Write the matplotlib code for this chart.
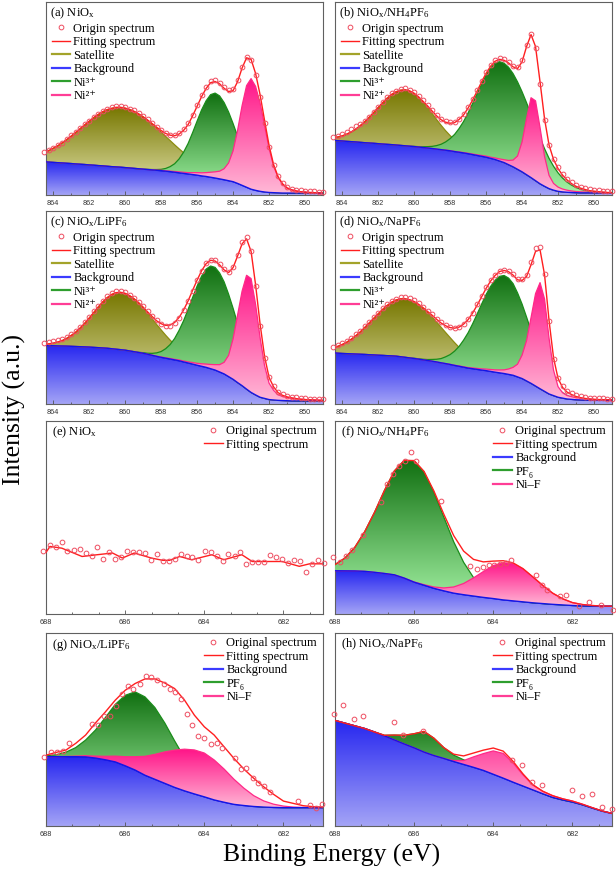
import numpy as np
import matplotlib
matplotlib.use("Agg")
import matplotlib.pyplot as plt
from matplotlib.colors import LinearSegmentedColormap
from matplotlib.lines import Line2D
from matplotlib.ticker import MultipleLocator, AutoMinorLocator, FormatStrFormatter

plt.rcParams["font.family"] = ["Liberation Serif", "DejaVu Serif"]
plt.rcParams["mathtext.fontset"] = "custom"
plt.rcParams["mathtext.rm"] = "Liberation Serif"
plt.rcParams["mathtext.it"] = "Liberation Serif:italic"

# ---- Ni 2p panels (a)-(d): binding energy grid, intensities in % of panel height
E_NI = np.arange(864.5, 848.9, -0.25)

BG_A = [17.2, 17.05, 16.9, 16.75, 16.6, 16.45, 16.3, 16.1, 15.95, 15.8, 15.6, 15.45, 15.25, 15.1, 14.9, 14.7,
        14.55, 14.4, 14.2, 14.0, 13.8, 13.6, 13.4, 13.2, 13.0, 12.8, 12.6, 12.35, 12.1, 11.8, 11.5, 11.2, 10.9,
        10.6, 10.3, 9.9, 9.6, 9.2, 8.8, 8.35, 7.9, 7.4, 6.9, 6.0, 5.0, 4.0, 3.0, 2.4, 1.9, 1.55, 1.3, 1.2, 1.1,
        1.0, 1.0, 1.0, 1.0, 1.0, 1.0, 1.0, 1.0, 1.0, 1.0]
SAT_A = [4.8, 5.9, 7.3, 8.7, 10.4, 12.2, 14.2, 16.3, 18.4, 20.5, 22.6, 24.6, 26.4, 28.0, 29.3, 30.2, 30.8, 31.0,
         30.8, 30.3, 29.5, 28.4, 27.1, 25.5, 23.8, 21.9, 20.0, 18.0, 16.1, 14.2, 12.4, 10.7, 9.1, 7.7, 6.4, 5.3,
         4.4, 3.6, 2.8, 2.2, 1.7, 1.4, 1.1, 0.8, 0.6, 0.5, 0.3, 0.2, 0.2, 0.1,
         0, 0, 0, 0, 0, 0, 0, 0, 0, 0, 0, 0, 0]
NI3_A = [0] * 23 + [0.1, 0.2, 0.4, 0.7, 1.4, 2.6, 4.4, 7.2, 11.0, 15.8, 21.7, 28.0, 34.2, 39.2, 42.8, 44.0, 43.0,
                    40.0, 35.6, 30.1, 24.4, 18.9, 13.9, 9.7, 6.5, 4.1, 2.5, 1.5, 0.8, 0.4, 0.2, 0.1] + [0] * 8
NI2_A = [0] * 24 + [0.1, 0.1, 0.2, 0.2, 0.3, 0.4, 0.5, 0.6, 0.7, 1.0, 1.3, 1.6, 2.0, 2.6, 3.2, 4.0, 5.7, 9.2, 16.0,
                    27.5, 41.3, 52.7, 57.3, 53.9, 45.8, 34.4, 22.9, 13.8, 8.0, 4.6, 2.6, 1.7, 1.1, 0.7, 0.5, 0.3,
                    0.2, 0.1, 0.1]
FIT_A = [22.0, 23.0, 24.2, 25.5, 27.0, 28.7, 30.5, 32.4, 34.4, 36.3, 38.2, 40.1, 41.7, 43.1, 44.2, 44.9, 45.4, 45.4,
         45.0, 44.3, 43.3, 42.0, 40.5, 38.8, 37.0, 35.1, 33.4, 31.9, 31.0, 30.7, 31.6, 33.5, 36.5, 41.0, 46.0, 51.0,
         55.2, 58.2, 58.8, 57.6, 55.3, 53.6, 54.1, 58.7, 65.8, 71.1, 70.3, 63.0, 52.0, 38.6, 25.7, 15.8, 9.5, 5.8,
         3.7, 2.7, 2.1, 1.7, 1.5, 1.3, 1.2, 1.1, 1.1]
OBS_A = [22.3, 23.4, 24.6, 25.9, 27.2, 29.0, 30.9, 32.6, 34.9, 36.6, 38.6, 40.5, 42.2, 43.6, 44.5, 45.5, 46.0, 46.2,
         45.6, 44.8, 43.9, 42.4, 41.0, 39.2, 37.3, 35.4, 33.7, 32.1, 31.2, 31.3, 32.3, 34.2, 37.2, 41.6, 46.8, 51.9,
         56.1, 58.9, 59.4, 58.2, 56.0, 54.5, 55.0, 59.5, 66.5, 71.5, 70.0, 62.0, 50.8, 37.5, 25.0, 15.8, 10.0, 6.4,
         4.2, 3.3, 2.8, 2.4, 2.2, 2.0, 1.9, 1.8, 1.8]

BG_B = [28.3, 28.15, 28.0, 27.8, 27.65, 27.5, 27.3, 27.1, 26.95, 26.8, 26.6, 26.4, 26.25, 26.1, 25.9, 25.7, 25.5,
        25.3, 25.1, 24.85, 24.6, 24.35, 24.1, 23.8, 23.5, 23.2, 22.9, 22.5, 22.15, 21.8, 21.4, 20.95, 20.5, 20.05,
        19.6, 19.0, 18.4, 17.6, 16.8, 15.7, 14.6, 13.3, 12.0, 10.5, 9.0, 7.4, 5.8, 4.5, 3.3, 2.5, 1.9, 1.6, 1.4,
        1.3, 1.2, 1.1, 1.1, 1.1, 1.1, 1.1, 1.1, 1.1, 1.1]
SAT_B = [1.3, 1.9, 2.6, 3.7, 5.0, 6.6, 8.6, 10.8, 13.3, 15.9, 18.7, 21.4, 23.9, 26.0, 27.6, 28.6, 29.0,
         28.6, 27.5, 25.8, 23.5, 21.0, 18.2, 15.3, 12.6, 10.1, 7.9, 6.0, 4.5, 3.2, 2.3, 1.5, 1.0, 0.7, 0.4, 0.3,
         0.2, 0.1] + [0] * 25
NI3_B = [0] * 18 + [0.1, 0.2, 0.4, 0.7, 1.1, 1.8, 2.8, 4.3, 6.3, 8.9, 12.3, 16.3, 21.1, 26.4, 31.9, 37.4, 42.5,
                    46.8, 49.9, 51.5, 51.5, 50.5, 48.3, 45.3, 41.5, 37.3, 32.7, 28.1, 23.7, 19.5, 15.7, 12.4, 9.6,
                    7.2, 5.3, 3.8, 2.7, 1.9, 1.3, 0.8, 0.6, 0.4, 0.2, 0.1, 0.1]
NI2_B = [0] * 25 + [0.1, 0.1, 0.1, 0.2, 0.2, 0.25, 0.3, 0.35, 0.45, 0.55, 0.6, 0.8, 1.1, 1.5, 2.2, 3.5, 6.9, 15.5,
                    29.1, 41.4, 41.4, 29.1, 15.5, 6.9, 3.5, 2.2, 1.5, 1.1, 0.8, 0.6, 0.55, 0.45, 0.35, 0.3, 0.2,
                    0.2, 0.1, 0.1]
FIT_B = [29.6, 30.05, 30.6, 31.5, 32.65, 34.1, 35.9, 37.9, 40.25, 42.7, 45.3, 47.8, 50.15, 52.1, 53.5, 54.3, 54.5,
         53.9, 52.7, 50.85, 48.5, 46.15, 43.5, 41.0, 39.0, 37.7, 37.2, 37.5, 39.15, 41.5, 45.05, 49.15, 53.75, 58.6,
         63.05, 66.7, 69.3, 70.3, 69.8, 68.4, 66.4, 65.5, 69.0, 76.9, 83.1, 76.9, 58.6, 39.5, 25.9, 18.4, 13.7,
         10.3, 7.8, 5.9, 4.5, 3.55, 2.85, 2.25, 2.0, 1.7, 1.5, 1.3, 1.3]
OBS_B = [30.2, 30.8, 31.6, 32.6, 34.0, 35.5, 37.0, 38.6, 40.6, 42.9, 45.6, 48.2, 50.6, 52.6, 54.1, 55.0, 55.2, 54.6,
         53.3, 51.5, 49.2, 46.8, 44.1, 41.6, 39.6, 38.2, 37.7, 38.0, 39.6, 42.0, 45.6, 49.7, 54.3, 59.2, 63.6, 67.3,
         69.9, 70.9, 70.3, 69.0, 67.0, 66.2, 69.8, 77.6, 83.2, 76.0, 57.5, 39.0, 26.0, 18.9, 14.4, 11.0, 8.5, 6.6,
         5.3, 4.3, 3.6, 3.0, 2.7, 2.4, 2.2, 2.0, 2.0]

BG_C = [30.3, 30.25, 30.2, 30.1, 30.05, 30.0, 29.9, 29.8, 29.7, 29.6, 29.5, 29.35, 29.2, 29.05, 28.9, 28.65, 28.4,
        28.15, 27.9, 27.5, 27.1, 26.7, 26.3, 25.8, 25.25, 24.7, 24.2, 23.75, 23.3, 22.85, 22.4, 21.8, 21.25, 20.7,
        20.1, 19.55, 19.0, 18.3, 17.6, 16.6, 15.6, 14.2, 12.8, 11.1, 9.5, 7.7, 6.0, 4.7, 3.5, 2.9, 2.3, 2.1, 1.9,
        1.8, 1.7, 1.6, 1.6, 1.6, 1.6, 1.6, 1.6, 1.6, 1.6]
SAT_C = [0.5, 0.9, 1.3, 2.0, 2.8, 4.0, 5.6, 7.4, 9.7, 12.2, 15.0, 18.0, 21.0, 23.8, 26.2, 28.1, 29.3, 29.7,
         29.4, 28.6, 27.4, 25.7, 23.6, 21.4, 19.0, 16.5, 14.2, 11.9, 9.8, 8.0, 6.3, 5.0, 3.8, 2.9, 2.1, 1.5, 1.1,
         0.8, 0.5, 0.4, 0.2, 0.2, 0.1] + [0] * 20
NI3_C = [0] * 21 + [0.1, 0.3, 0.5, 1.0, 1.8, 3.0, 4.9, 7.5, 11.1, 15.8, 21.4, 27.8, 34.5, 41.0, 46.7, 50.9, 53.2,
                    53.2, 51.3, 47.7, 42.7, 36.8, 30.6, 24.5, 18.9, 14.1, 10.1, 7.0, 4.7, 3.0, 1.8, 1.1, 0.6, 0.3,
                    0.2, 0.1] + [0] * 6
NI2_C = [0] * 24 + [0.1, 0.1, 0.2, 0.2, 0.3, 0.3, 0.4, 0.5, 0.6, 0.8, 1.0, 1.3, 1.7, 2.2, 2.8, 3.8, 6.0, 11.0, 21.0,
                    35.0, 49.0, 59.0, 59.0, 47.0, 31.0, 17.0, 8.5, 5.0, 2.9, 2.1, 1.7, 1.4, 1.1, 0.9, 0.7, 0.6,
                    0.5, 0.4, 0.3]
FIT_C = [30.8, 31.15, 31.5, 32.1, 32.85, 34.0, 35.5, 37.2, 39.4, 41.8, 44.5, 47.35, 50.2, 52.85, 55.1, 56.75, 57.7,
         57.85, 57.3, 56.1, 54.5, 52.5, 50.2, 47.7, 45.35, 43.1, 41.6, 40.75, 40.9, 42.25, 44.9, 48.7, 53.45, 58.9,
         64.2, 69.05, 72.7, 74.5, 74.1, 72.1, 69.5, 68.1, 70.7, 76.7, 83.0, 85.6, 79.1, 61.8, 41.5, 24.6, 13.8, 8.9,
         5.9, 4.5, 3.7, 3.2, 2.8, 2.5, 2.3, 2.2, 2.1, 2.0, 1.9]
OBS_C = [31.5, 31.9, 32.4, 33.0, 33.8, 34.9, 36.3, 38.0, 40.1, 42.6, 45.2, 48.1, 50.9, 53.5, 55.8, 57.4, 58.4, 58.6,
         58.0, 56.7, 55.0, 53.0, 50.6, 48.0, 45.6, 43.3, 41.6, 40.5, 40.6, 42.0, 44.6, 48.5, 53.3, 58.8, 64.1, 69.1,
         72.9, 74.8, 74.5, 72.6, 70.0, 68.6, 71.0, 77.2, 83.8, 86.8, 79.5, 61.0, 40.5, 24.0, 13.9, 9.2, 6.4, 5.1,
         4.3, 3.8, 3.4, 3.1, 2.9, 2.8, 2.7, 2.6, 2.5]

BG_D = [26.5, 26.35, 26.2, 26.1, 26.0, 25.9, 25.8, 25.7, 25.55, 25.45, 25.3, 25.2, 25.05, 24.95, 24.8, 24.5, 24.2,
        23.9, 23.6, 23.25, 22.9, 22.55, 22.2, 21.8, 21.35, 20.95, 20.5, 20.0, 19.55, 19.1, 18.6, 18.3, 17.95, 17.6,
        17.3, 16.9, 16.5, 16.15, 15.8, 15.35, 14.9, 14.05, 13.2, 11.95, 10.7, 9.3, 7.9, 6.55, 5.2, 4.35, 3.5, 3.05,
        2.6, 2.4, 2.2, 2.1, 2.0, 1.95, 1.9, 1.9, 1.9, 1.9, 1.9]
SAT_D = [2.6, 3.5, 4.6, 5.9, 7.5, 9.4, 11.5, 13.9, 16.4, 18.9, 21.4, 23.8, 26.0, 27.8, 29.1, 30.0, 30.3,
         30.1, 29.4, 28.2, 26.7, 24.9, 22.9, 20.7, 18.4, 16.1, 13.9, 11.8, 9.8, 8.1, 6.5, 5.2, 4.1, 3.2, 2.4, 1.8,
         1.3, 1.0, 0.7, 0.5, 0.3, 0.2, 0.1, 0.1] + [0] * 19
NI3_D = [0] * 18 + [0.1, 0.2, 0.3, 0.5, 0.9, 1.4, 2.2, 3.5, 5.1, 7.4, 10.3, 14.0, 18.3, 23.2, 28.6, 34.1, 39.4,
                    44.0, 47.6, 50.0, 50.8, 49.9, 47.5, 43.5, 38.6, 33.1, 27.4, 21.9, 17.0, 12.6, 9.1, 6.4, 4.3,
                    2.8, 1.8, 1.1, 0.6, 0.3, 0.2, 0.1] + [0] * 5
NI2_D = [0] * 26 + [0.1, 0.1, 0.2, 0.2, 0.3, 0.4, 0.5, 0.6, 0.8, 1.0, 1.2, 1.5, 1.9, 2.8, 4.1, 6.6, 12.1, 20.9,
                    34.1, 47.9, 55.0, 47.9, 29.0, 13.2, 5.5, 2.8, 1.8, 1.4, 1.1, 0.9, 0.7, 0.6, 0.5, 0.4, 0.3,
                    0.3, 0.2]
FIT_D = [29.1, 29.85, 30.8, 32.0, 33.5, 35.3, 37.3, 39.6, 41.95, 44.35, 46.7, 49.0, 51.05, 52.75, 53.9, 54.5, 54.5,
         54.0, 53.1, 51.65, 49.9, 47.95, 46.0, 43.9, 41.95, 40.55, 39.6, 39.3, 39.85, 41.4, 43.7, 47.1, 51.15, 55.5,
         59.9, 63.7, 66.6, 68.65, 69.2, 68.55, 66.8, 64.35, 64.0, 66.05, 72.2, 79.1, 79.9, 67.05, 43.3, 23.95, 13.3,
         8.65, 6.2, 4.9, 3.9, 3.3, 2.9, 2.65, 2.4, 2.3, 2.2, 2.2, 2.1]
OBS_D = [29.8, 30.6, 31.6, 32.8, 34.3, 36.1, 38.0, 40.3, 42.6, 45.0, 47.3, 49.5, 51.6, 53.3, 54.5, 55.2, 55.3, 54.8,
         53.8, 52.2, 50.4, 48.4, 46.4, 44.3, 42.4, 41.0, 40.0, 39.6, 40.1, 41.6, 44.0, 47.4, 51.6, 56.0, 60.4, 64.2,
         67.1, 69.1, 69.6, 69.0, 67.3, 65.0, 64.8, 67.0, 73.4, 80.6, 81.5, 67.5, 43.0, 23.5, 13.5, 9.1, 6.8, 5.5,
         4.6, 4.0, 3.6, 3.3, 3.1, 3.0, 2.9, 2.8, 2.8]

# ---- F 1s panels (e)-(h)
E_F = np.arange(688.0, 680.9, -0.25)

E_FIT_E = [688.0, 687.9, 687.6, 687.09, 686.71, 686.32, 686.07, 685.77, 685.34, 685.05, 684.88, 684.62, 684.32,
           683.81, 683.51, 683.05, 682.79, 682.03, 681.6, 681.34, 681.0]
FIT_E = [31.9, 35.0, 34.1, 29.8, 30.7, 31.6, 29.0, 31.6, 29.0, 27.8, 27.8, 29.8, 28.1, 30.7, 28.1, 30.7, 27.2, 27.2,
         24.7, 26.0, 26.0]
E_OBS_E = [688.07, 687.90, 687.74, 687.60, 687.46, 687.30, 687.15, 687.00, 686.85, 686.71, 686.55, 686.41, 686.26,
           686.11, 685.96, 685.81, 685.64, 685.50, 685.34, 685.19, 685.05, 684.89, 684.75, 684.60, 684.45, 684.30,
           684.15, 683.98, 683.84, 683.69, 683.53, 683.39, 683.23, 683.09, 682.94, 682.79, 682.64, 682.49, 682.34,
           682.20, 682.04, 681.89, 681.73, 681.58, 681.43, 681.28, 681.13, 680.98]
OBS_E = [32.4, 35.9, 34.7, 37.1, 32.4, 33.3, 33.6, 31.6, 30.2, 34.5, 28.4, 31.9, 28.4, 29.5, 32.4, 31.9, 31.9, 31.6,
         28.1, 31.0, 27.6, 27.6, 28.4, 31.2, 30.2, 29.5, 28.1, 32.4, 31.9, 29.8, 27.2, 31.0, 30.2, 32.1, 26.0, 26.9,
         26.7, 26.7, 30.7, 29.3, 28.4, 26.4, 27.8, 27.2, 21.7, 26.0, 27.8, 26.4]

BG_F = [22.4, 22.35, 22.3, 22.1, 21.6, 21.0, 20.3, 18.6, 16.5, 14.9, 13.3, 12.0, 10.8, 10.0, 9.3, 8.6, 8.0, 7.3,
        6.8, 6.3, 5.8, 5.4, 5.0, 4.7, 4.4, 4.2, 4.1, 4.0, 4.0]
PF6_F = [3.2, 6.6, 12.2, 20.5, 31.1, 43.0, 53.8, 61.0, 62.9, 58.7, 49.7, 38.2, 26.6, 16.8, 9.6, 5.0, 2.3, 1.0, 0.4,
         0.1, 0, 0, 0, 0, 0, 0, 0, 0, 0]
NIF_F = [0, 0, 0, 0, 0, 0, 0, 0, 0.1, 0.3, 0.7, 1.5, 3.2, 5.8, 9.4, 13.4, 17.1, 19.3, 19.3, 17.1, 13.4, 9.4, 5.8,
         3.2, 1.5, 0.7, 0.3, 0.1, 0]
FIT_F = [25.6, 28.95, 34.5, 42.6, 52.7, 64.0, 74.1, 79.6, 79.5, 73.9, 63.7, 51.7, 40.6, 32.6, 28.3, 27.0, 27.4,
         27.6, 26.5, 23.5, 19.2, 14.8, 10.8, 7.9, 5.9, 4.9, 4.4, 4.1, 4.0]
E_OBS_F = [688.04, 687.88, 687.73, 687.58, 687.29, 686.84, 686.69, 686.54, 686.39, 686.24, 686.09, 685.95, 685.31,
           684.59, 684.42, 684.27, 684.12, 683.97, 683.82, 683.69, 683.55, 682.93, 682.76, 682.63, 682.31, 682.17,
           681.83, 681.57, 681.29, 680.98]
OBS_F = [29.5, 26.7, 29.8, 32.9, 41.0, 57.8, 67.4, 72.4, 76.9, 79.5, 83.8, 79.5, 58.3, 24.7, 23.3, 24.1, 25.2, 25.2,
         26.0, 26.4, 28.1, 20.0, 14.8, 12.2, 9.5, 9.7, 4.3, 6.2, 4.7, 1.9]

BG_G = [35.9, 35.9, 35.9, 35.9, 35.8, 35.2, 34.3, 33.2, 31.2, 29.0, 26.3, 24.2, 22.1, 20.0, 18.2, 16.6, 15.1, 13.5,
        12.3, 11.2, 10.6, 10.1, 9.8, 9.6, 9.5, 9.5, 9.5, 9.5, 9.5]
PF6_G = [0.4, 1.0, 2.3, 4.7, 8.7, 14.5, 21.9, 29.8, 36.5, 40.5, 40.6, 37.2, 31.3, 24.1, 17.1, 11.1, 6.6, 3.6, 1.8,
         0.8, 0.3, 0.1, 0, 0, 0, 0, 0, 0, 0]
NIF_G = [0, 0, 0.1, 0.3, 0.6, 1.0, 1.8, 3.0, 4.7, 6.9, 9.8, 12.9, 16.3, 19.3, 21.6, 22.8, 22.7, 20.7, 17.2, 13.0,
         9.0, 5.6, 3.2, 1.7, 0.8, 0.3, 0.1, 0, 0]
FIT_G = [36.7, 38.1, 39.3, 42.8, 47.1, 53.4, 59.1, 65.2, 70.3, 73.8, 76.2, 76.2, 74.1, 71.2, 65.2, 57.4, 51.4, 47.1,
         41.0, 35.0, 29.5, 24.7, 20.3, 16.4, 12.9, 11.7, 10.5, 10.0, 9.8]
E_OBS_G = [688.04, 687.87, 687.72, 687.58, 687.43, 686.83, 686.69, 686.54, 686.39, 686.22, 686.08, 685.93, 685.79,
           685.63, 685.48, 685.34, 685.19, 685.02, 684.86, 684.75, 684.59, 684.45, 684.30, 684.15, 684.00, 683.84,
           683.69, 683.55, 683.22, 683.08, 682.94, 682.78, 682.65, 682.49, 682.34, 681.62, 681.32, 681.17, 681.03]
OBS_G = [35.9, 38.3, 38.3, 39.0, 42.8, 53.1, 52.1, 56.9, 57.2, 62.2, 68.3, 72.4, 70.9, 73.8, 77.8, 77.4, 75.9, 73.4,
         70.9, 69.3, 65.7, 57.8, 52.1, 46.4, 45.7, 42.4, 42.9, 40.2, 35.3, 29.5, 30.0, 24.7, 22.1, 20.9, 17.8, 12.9,
         10.7, 9.3, 11.2]

BG_H = [54.7, 53.3, 51.9, 50.5, 48.7, 46.7, 44.6, 42.5, 40.5, 38.3, 36.5, 35.0, 33.4, 31.9, 30.4, 28.8, 26.8, 24.8,
        22.7, 20.7, 18.7, 16.7, 14.8, 13.5, 12.4, 11.0, 9.3, 7.7, 6.5]
PF6_H = [0, 0, 0, 0, 0, 0.3, 2.5, 4.5, 7.3, 10.7, 9.0, 5.6, 3.3, 2.4, 2.0, 1.8, 1.5, 1.2, 0.8, 0.5, 0.2, 0, 0, 0, 0,
         0, 0, 0, 0]
NIF_H = [0] * 12 + [0.5, 2.0, 5.4, 8.7, 12.1, 12.8, 10.0, 5.8, 2.5, 1.3, 0.9, 0.6, 0.5, 0.3, 0.2, 0.1, 0]
FIT_H = [54.7, 53.3, 51.9, 50.5, 48.7, 47.0, 47.1, 47.0, 47.8, 49.0, 45.5, 40.6, 37.2, 36.3, 37.8, 39.3, 40.4, 38.8,
         33.5, 27.0, 21.4, 18.0, 15.7, 14.1, 12.9, 11.3, 9.5, 7.8, 6.5]
E_OBS_H = [688.03, 687.79, 687.53, 687.28, 686.51, 686.28, 685.78, 683.53, 683.27, 683.02, 682.76, 682.02, 681.77,
           681.51, 681.26, 681.0]
OBS_H = [58.2, 62.5, 55.3, 57.0, 53.9, 47.0, 49.1, 34.0, 31.8, 22.8, 21.4, 18.5, 15.4, 16.8, 9.8, 8.6]

NI_LABELS = ["Origin spectrum", "Fitting spectrum", "Satellite", "Background", "Ni\u00b3\u207a", "Ni\u00b2\u207a"]
F_LABELS = ["Original spectrum", "Fitting spectrum", "Background", "PF\u2086", "Ni\u2013F"]

# colours
OBS_COL = "#ee4d60"
FIT_COL = "#ff1f1f"
BG_COLS = ("#2626f0", "#a4a4f6", "#1414e6")      # top, bottom, edge
SAT_COLS = ("#777700", "#e6e6b0", "#8c8c10")
GRN_COLS = ("#117011", "#a4f2a4", "#1a8c1a")
PNK_COLS = ("#ff1488", "#ffb8d6", "#ff2a88")

LEG_KW = dict(frameon=False, fontsize=9, borderpad=0, borderaxespad=0, handlelength=1.45,
              handletextpad=0.3, labelspacing=0.12)


def grad_fill(ax, x, lo, hi, cols, z):
    poly = ax.fill_between(x, lo, hi, facecolor="none", edgecolor="none", zorder=z)
    cmap = LinearSegmentedColormap.from_list("g", [cols[1], cols[0]])
    im = ax.imshow(np.linspace(0, 1, 256).reshape(-1, 1), cmap=cmap, origin="lower", aspect="auto",
                   extent=(x.min(), x.max(), np.min(lo), np.max(hi)), zorder=z, interpolation="bilinear")
    im.set_clip_path(poly.get_paths()[0], transform=ax.transData)
    ax.plot(x, hi, color=cols[2], lw=0.9, zorder=z + 0.5)


def style(ax, xlim, minor):
    ax.set_xlim(*xlim)
    ax.set_ylim(0, 100)
    ax.set_yticks([])
    ax.xaxis.set_major_locator(MultipleLocator(2))
    ax.xaxis.set_minor_locator(minor)
    ax.xaxis.set_major_formatter(FormatStrFormatter("%d"))
    ax.tick_params(axis="x", which="both", direction="in", top=False, labelsize=5.2, labelcolor="#333333",
                   color="#555555", width=0.6, labelfontfamily="Liberation Sans")
    ax.tick_params(axis="x", which="major", length=3)
    ax.tick_params(axis="x", which="minor", length=1.6)
    for s in ax.spines.values():
        s.set_color("#606060")
        s.set_linewidth(0.8)


def obs_handle():
    return Line2D([], [], ls="none", marker="o", mfc="none", mec=OBS_COL, ms=3.4, mew=0.7)


def ni_panel(ax, label, bg, sat, ni3, ni2, fit, obs):
    bg = np.array(bg)
    grad_fill(ax, E_NI, np.zeros_like(bg), bg, BG_COLS, 1)
    grad_fill(ax, E_NI, bg, bg + np.array(sat), SAT_COLS, 2)
    grad_fill(ax, E_NI, bg, bg + np.array(ni3), GRN_COLS, 3)
    grad_fill(ax, E_NI, bg, bg + np.array(ni2), PNK_COLS, 4)
    ax.plot(E_NI, bg, color=BG_COLS[2], lw=1.0, zorder=5)
    ax.plot(E_NI, fit, color=FIT_COL, lw=1.0, zorder=6)
    ax.plot(E_NI, obs, ls="none", marker="o", mfc="none", mec=OBS_COL, ms=3.4, mew=0.7, zorder=7,
            clip_on=False)
    style(ax, (864.4, 849.0), MultipleLocator(1))
    ax.text(0.014, 0.98, label, transform=ax.transAxes, ha="left", va="top", fontsize=9)
    handles = [obs_handle(), Line2D([], [], color=FIT_COL, lw=1.0), Line2D([], [], color="#a3a32a", lw=1.6),
               Line2D([], [], color="#3b3bff", lw=1.6), Line2D([], [], color="#2e9e2e", lw=1.6),
               Line2D([], [], color="#ff3d96", lw=1.6)]
    ax.legend(handles, NI_LABELS, loc="upper left", bbox_to_anchor=(0.02, 0.893), **LEG_KW)


def f_panel(ax, label, bg, pf6, nif, fit, e_obs, obs):
    bg = np.array(bg)
    grad_fill(ax, E_F, np.zeros_like(bg), bg, BG_COLS, 1)
    grad_fill(ax, E_F, bg, bg + np.array(pf6), GRN_COLS, 3)
    grad_fill(ax, E_F, bg, bg + np.array(nif), PNK_COLS, 4)
    ax.plot(E_F, bg, color=BG_COLS[2], lw=1.0, zorder=5)
    ax.plot(E_F, fit, color=FIT_COL, lw=1.0, zorder=6)
    ax.plot(e_obs, obs, ls="none", marker="o", mfc="none", mec=OBS_COL, ms=3.4, mew=0.7, zorder=7,
            clip_on=False)
    style(ax, (688.0, 681.0), AutoMinorLocator(3))
    ax.text(0.022, 0.98, label, transform=ax.transAxes, ha="left", va="top", fontsize=9)
    handles = [obs_handle(), Line2D([], [], color=FIT_COL, lw=1.0), Line2D([], [], color="#3b3bff", lw=1.6),
               Line2D([], [], color="#2e9e2e", lw=1.6), Line2D([], [], color="#ff3d96", lw=1.6)]
    ax.legend(handles, F_LABELS, loc="upper right", bbox_to_anchor=(0.978, 0.978), **LEG_KW)


fig = plt.figure(figsize=(6.16, 8.76), dpi=100)
W, H = 0.4497, 0.2203
cols = [0.0747, 0.5438]
rows = [0.7774, 0.5388, 0.2991, 0.0571]
axs = [[fig.add_axes([c, r, W, H]) for c in cols] for r in rows]

ni_panel(axs[0][0], "(a) NiO$_{\\rm x}$", BG_A, SAT_A, NI3_A, NI2_A, FIT_A, OBS_A)
ni_panel(axs[0][1], "(b) NiO$_{\\rm x}$/NH$_4$PF$_6$", BG_B, SAT_B, NI3_B, NI2_B, FIT_B, OBS_B)
ni_panel(axs[1][0], "(c) NiO$_{\\rm x}$/LiPF$_6$", BG_C, SAT_C, NI3_C, NI2_C, FIT_C, OBS_C)
ni_panel(axs[1][1], "(d) NiO$_{\\rm x}$/NaPF$_6$", BG_D, SAT_D, NI3_D, NI2_D, FIT_D, OBS_D)

ax = axs[2][0]
ax.plot(E_FIT_E, FIT_E, color=FIT_COL, lw=1.0, zorder=6)
ax.plot(E_OBS_E, OBS_E, ls="none", marker="o", mfc="none", mec=OBS_COL, ms=3.4, mew=0.7, zorder=7, clip_on=False)
style(ax, (688.0, 681.0), AutoMinorLocator(3))
ax.text(0.022, 0.98, "(e) NiO$_{\\rm x}$", transform=ax.transAxes, ha="left", va="top", fontsize=9)
ax.legend([obs_handle(), Line2D([], [], color=FIT_COL, lw=1.0)], F_LABELS[:2],
          loc="upper right", bbox_to_anchor=(0.978, 0.978), **LEG_KW)

f_panel(axs[2][1], "(f) NiO$_{\\rm x}$/NH$_4$PF$_6$", BG_F, PF6_F, NIF_F, FIT_F, E_OBS_F, OBS_F)
f_panel(axs[3][0], "(g) NiO$_{\\rm x}$/LiPF$_6$", BG_G, PF6_G, NIF_G, FIT_G, E_OBS_G, OBS_G)
f_panel(axs[3][1], "(h) NiO$_{\\rm x}$/NaPF$_6$", BG_H, PF6_H, NIF_H, FIT_H, E_OBS_H, OBS_H)

fig.text(0.539, 0.024, "Binding Energy (eV)", ha="center", va="center", fontsize=18.5)
fig.text(0.0227, 0.5325, "Intensity (a.u.)", rotation=90, ha="center", va="center", fontsize=18.5)

fig.savefig("out.png", dpi=100)
